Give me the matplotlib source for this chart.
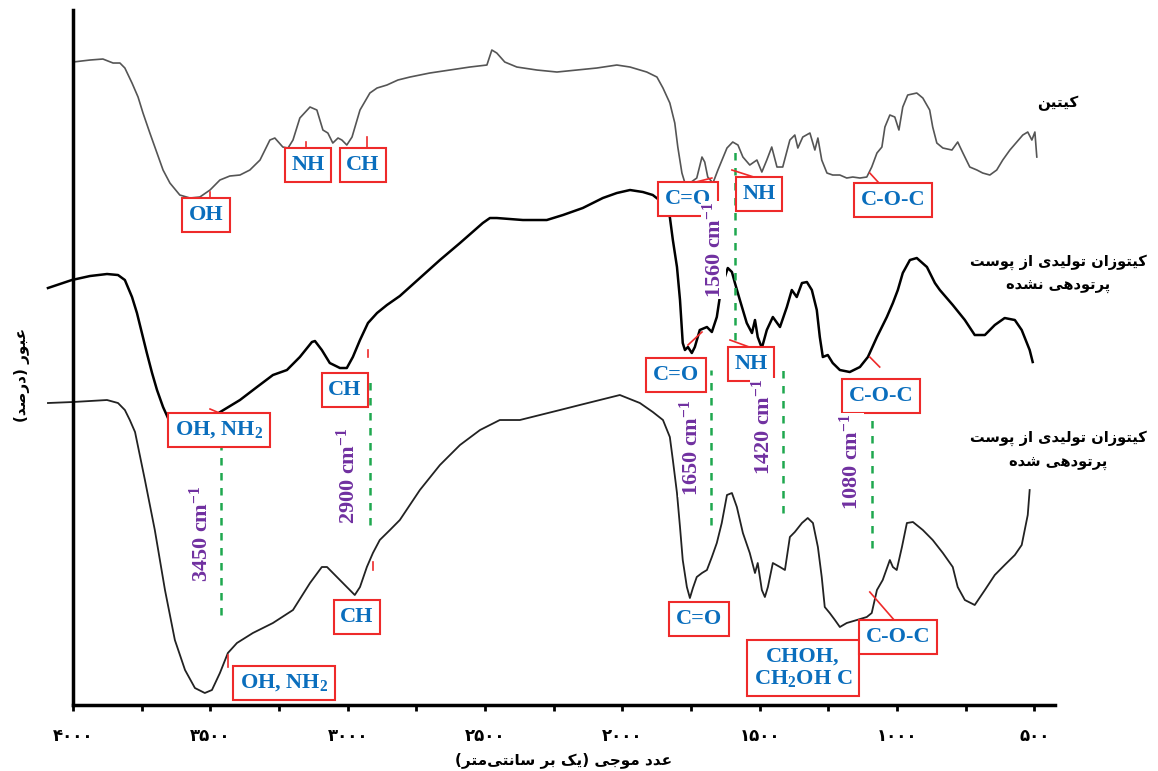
import matplotlib

matplotlib.use("Agg")
import matplotlib.pyplot as plt
from matplotlib.ticker import MultipleLocator

# %%
# spectra: wavenumber (cm-1) and transmittance (arbitrary units)
chitin_wn = [4000, 3938, 3891, 3854, 3829, 3811, 3785, 3763, 3745, 3720, 3694, 3672, 3647, 3611,
             3574, 3538, 3501, 3465, 3429, 3392, 3356, 3319, 3283, 3265, 3236, 3217, 3199, 3174,
             3137, 3112, 3090, 3072, 3054, 3035, 3021, 3003, 2984, 2955, 2919, 2893, 2857, 2817,
             2773, 2701, 2628, 2555, 2493, 2475, 2457, 2428, 2384, 2311, 2238, 2165, 2093, 2020,
             1972, 1911, 1874, 1852, 1827, 1809, 1798, 1783, 1772, 1754, 1729, 1710, 1700, 1689,
             1670, 1652, 1619, 1598, 1579, 1561, 1536, 1510, 1492, 1474, 1456, 1437, 1416, 1390,
             1372, 1361, 1343, 1317, 1299, 1288, 1274, 1255, 1234, 1208, 1183, 1161, 1135, 1110,
             1092, 1073, 1055, 1044, 1026, 1008, 993, 979, 961, 928, 906, 881, 870, 855, 833, 800,
             779, 760, 735, 709, 688, 662, 637, 615, 589, 564, 542, 524, 509, 498, 491]
chitin_t = [643, 645, 646, 642, 642, 637, 622, 608, 592, 572, 552, 535, 522, 510,
            507, 508, 515, 525, 529, 530, 535, 545, 565, 567, 558, 557, 565, 587,
            598, 595, 575, 572, 562, 567, 565, 560, 568, 595, 612, 617, 620, 625,
            628, 632, 635, 638, 640, 655, 652, 643, 638, 635, 633, 635, 637, 640,
            638, 633, 628, 617, 602, 582, 558, 532, 522, 522, 527, 548, 543, 528,
            522, 535, 557, 563, 560, 548, 540, 545, 533, 545, 558, 538, 538, 565,
            570, 557, 568, 572, 555, 567, 545, 532, 530, 530, 527, 528, 527, 528,
            538, 552, 558, 578, 590, 588, 575, 598, 610, 612, 607, 595, 578, 562, 557, 555,
            563, 552, 538, 535, 532, 530, 535, 545, 555, 563, 570, 573, 565, 573, 548]

raw_wn = [4091, 4004, 3938, 3876, 3836, 3811, 3785, 3767, 3749, 3731, 3712, 3694, 3672, 3654,
          3629, 3574, 3520, 3476, 3392, 3330, 3272, 3221, 3174, 3130, 3119, 3094, 3065, 3028,
          3003, 2981, 2955, 2926, 2893, 2857, 2810, 2737, 2664, 2591, 2537, 2508, 2482, 2457,
          2362, 2275, 2216, 2144, 2071, 2020, 1972, 1925, 1889, 1852, 1827, 1816, 1801, 1790,
          1780, 1772, 1761, 1747, 1736, 1718, 1692, 1674, 1656, 1645, 1634, 1616, 1601, 1590,
          1572, 1547, 1528, 1517, 1507, 1492, 1474, 1452, 1426, 1401, 1383, 1365, 1346, 1328,
          1310, 1292, 1281, 1270, 1252, 1234, 1208, 1172, 1135, 1106, 1073, 1037, 1015, 997,
          979, 953, 928, 891, 862, 844, 797, 753, 717, 680, 644, 608, 571, 546, 517, 506]
raw_t = [417, 425, 429, 431, 430, 425, 408, 392, 372, 352, 332, 315, 298, 287,
         275, 265, 275, 291, 305, 318, 330, 335, 348, 363, 364, 355, 342, 337,
         337, 348, 365, 382, 392, 400, 409, 427, 445, 462, 475, 482, 487, 487,
         485, 485, 490, 497, 507, 512, 515, 513, 510, 502, 488, 465, 438, 405,
         362, 355, 358, 352, 358, 375, 378, 373, 388, 408, 422, 437, 433, 422,
         405, 382, 372, 385, 368, 357, 375, 388, 378, 398, 415, 408, 422, 423,
         415, 395, 368, 348, 350, 342, 335, 333, 338, 348, 368, 388, 402, 415,
         432, 445, 447, 438, 422, 415, 400, 385, 370, 370, 380, 387, 385, 375, 355, 343]

irr_wn = [4091, 4000, 3938, 3876, 3836, 3811, 3793, 3774, 3738, 3702, 3665, 3629, 3592, 3556,
          3520, 3494, 3465, 3436, 3403, 3345, 3272, 3199, 3137, 3094, 3075, 3039, 3003, 2974,
          2955, 2930, 2908, 2883, 2846, 2810, 2737, 2664, 2591, 2518, 2446, 2373, 2300, 2227,
          2155, 2082, 2009, 1936, 1889, 1852, 1827, 1816, 1801, 1790, 1780, 1765, 1754, 1743,
          1729, 1710, 1692, 1674, 1656, 1638, 1619, 1601, 1583, 1561, 1536, 1517, 1507, 1492,
          1481, 1470, 1452, 1426, 1408, 1390, 1372, 1346, 1325, 1306, 1288, 1274, 1263, 1245,
          1226, 1208, 1183, 1146, 1110, 1092, 1073, 1052, 1026, 1015, 1001, 982, 964, 942,
          906, 870, 833, 797, 779, 753, 717, 680, 644, 608, 571, 546, 524, 517]
irr_t = [302, 303, 304, 305, 302, 295, 285, 273, 225, 175, 115, 65, 35, 17,
         12, 15, 32, 52, 62, 72, 82, 95, 122, 138, 138, 128, 118, 110,
         118, 138, 152, 165, 175, 185, 215, 240, 260, 275, 285, 285, 290, 295,
         300, 305, 310, 302, 293, 285, 268, 245, 212, 178, 145, 118, 107, 117,
         128, 132, 135, 148, 162, 182, 210, 212, 198, 172, 152, 132, 142, 115,
         108, 118, 142, 138, 135, 168, 173, 182, 187, 182, 158, 128, 98, 92,
         85, 78, 82, 85, 88, 92, 115, 125, 145, 138, 135, 158, 182, 183,
         175, 165, 152, 138, 118, 105, 100, 115, 130, 140, 150, 160, 190, 215]

tick_values = [4000, 3500, 3000, 2500, 2000, 1500, 1000, 500]

# peak labels in red boxes
box_labels = ["OH", "NH", "CH", "C=O", "NH", "C-O-C",
              "OH, NH$_2$", "CH", "C=O", "NH", "C-O-C",
              "CH", "OH, NH$_2$", "C=O", "CHOH,\nCH$_2$OH C", "C-O-C"]
box_wn = [3516, 3145, 2944, 1761, 1503, 1015, 3469, 3010, 1805, 1532, 1059, 2966, 3232, 1721, 1343, 997]
box_t = [490, 540, 540, 506, 511, 505, 275, 315, 330, 341, 309, 88, 22, 86, 37, 68]

leader_wn = [(3501, 3501), (3152, 3152), (2930, 2930), (1761, 1674), (1601, 1510), (1099, 1059),
             (3501, 3458), (2926, 2926), (1761, 1710), (1608, 1528), (1099, 1063),
             (2908, 2908), (3436, 3436), (1099, 1001)]
leader_t = [(508, 513), (555, 563), (556, 568), (521, 527), (535, 527), (532, 520),
            (296, 291), (348, 355), (360, 373), (365, 357), (348, 338),
            (135, 143), (38, 50), (113, 82)]

band_names = ["3450", "2900", "1560", "1650", "1420", "1080"]
band_wn = [3534, 2999, 1667, 1750, 1488, 1168]
band_t = [171, 229, 455, 257, 278, 243]
dash_wn = [3461, 2919, 1590, 1678, 1416, 1092]
dash_lo = [90, 180, 365, 180, 192, 157]
dash_hi = [260, 327, 555, 335, 338, 303]

# %%
# matplotlib has no arabic shaping, so map letters to presentation forms by hand
BASE = {"ا": 0xFE8D, "ب": 0xFE8F, "ت": 0xFE95, "ج": 0xFE9D, "د": 0xFEA9, "ر": 0xFEAD,
        "ز": 0xFEAF, "س": 0xFEB1, "ش": 0xFEB5, "ص": 0xFEB9, "ع": 0xFEC9, "ل": 0xFEDD,
        "م": 0xFEE1, "ن": 0xFEE5, "ه": 0xFEE9, "و": 0xFEED, "پ": 0xFB56, "ک": 0xFB8E,
        "ی": 0xFBFC}
RIGHT_ONLY = "ادرزو"
MIRROR = {"(": ")", ")": "("}


def shape(text):
    out = []
    for i, c in enumerate(text):
        if c not in BASE:
            if c != "\u200c":
                out.append(MIRROR.get(c, c))
            continue
        prev = text[i - 1] if i > 0 else ""
        nxt = text[i + 1] if i + 1 < len(text) else ""
        join_prev = prev in BASE and prev not in RIGHT_ONLY
        join_next = c not in RIGHT_ONLY and nxt in BASE
        k = {(False, False): 0, (True, False): 1, (False, True): 2, (True, True): 3}[(join_prev, join_next)]
        out.append(chr(BASE[c] + k))
    return "".join(reversed(out))


def fa_digits(v):
    return str(v).translate(str.maketrans("0123456789", "۰۱۲۳۴۵۶۷۸۹"))


# %%
plt.rcParams["mathtext.fontset"] = "custom"
plt.rcParams["mathtext.rm"] = "Liberation Serif:bold"
plt.rcParams["mathtext.default"] = "rm"

fa = dict(family="DejaVu Sans", fontweight="bold")
blue = "#0a6ebd"
red = "#ee2a2a"
purple = "#7030a0"
green = "#1fa84f"

fig = plt.figure(figsize=(11.58, 7.71), dpi=100)
ax = fig.add_axes([0.063, 0.0856, 0.848, 0.9014])

ax.plot(chitin_wn, chitin_t, color="#555555", lw=1.2, clip_on=False, zorder=2)
ax.plot(raw_wn, raw_t, color="black", lw=1.8, clip_on=False, zorder=2)
ax.plot(irr_wn, irr_t, color="#222222", lw=1.3, clip_on=False, zorder=2)

for w, lo, hi in zip(dash_wn, dash_lo, dash_hi):
    ax.plot([w, w], [lo, hi], color=green, lw=1.8, ls=(0, (3, 3)), zorder=3)

for (w0, w1), (t0, t1) in zip(leader_wn, leader_t):
    ax.plot([w0, w1], [t0, t1], color=red, lw=1.2, zorder=3)

for lab, w, t in zip(box_labels, box_wn, box_t):
    ax.text(w, t, lab, ha="center", va="center", color=blue, fontsize=16,
            family="Liberation Serif", fontweight="bold", linespacing=1.1, zorder=4,
            bbox=dict(boxstyle="square,pad=0.3", fc="white", ec=red, lw=1.5))

for name, w, t in zip(band_names, band_wn, band_t):
    ax.text(w, t, name + " cm$^{-1}$", rotation=90, ha="center", va="center", color=purple,
            fontsize=16, family="Liberation Serif", fontweight="bold", zorder=5,
            bbox=dict(boxstyle="square,pad=0.05", fc="white", ec="none"))

ax.set_xlim(4000, 425)
ax.set_ylim(0, 695)
ax.set_yticks([])
ax.set_xticks(tick_values)
ax.set_xticklabels([fa_digits(v) for v in tick_values], fontsize=12, **fa)
ax.xaxis.set_minor_locator(MultipleLocator(250))
ax.tick_params(axis="x", which="both", direction="out", length=4, width=2, pad=12)
for side in ["top", "right"]:
    ax.spines[side].set_visible(False)
for side in ["left", "bottom"]:
    ax.spines[side].set_linewidth(2.5)

ax.set_xlabel(shape("عدد موجی (یک بر سانتی‌متر)"), fontsize=11, labelpad=5, **fa)
fig.text(22 / 1158, 1 - 375 / 771, shape("عبور (درصد)"), rotation=90, ha="center", va="center",
         fontsize=11, **fa)

fig.text(0.9136, 0.866, shape("کیتین"), ha="center", va="center", fontsize=11, **fa)
fig.text(0.9136, 0.660, shape("کیتوزان تولیدی از پوست"), ha="center", va="center", fontsize=10.5, **fa)
fig.text(0.9136, 0.628, shape("پرتودهی نشده"), ha="center", va="center", fontsize=10.5, **fa)
fig.text(0.9136, 0.432, shape("کیتوزان تولیدی از پوست"), ha="center", va="center", fontsize=10.5, **fa)
fig.text(0.9136, 0.399, shape("پرتودهی شده"), ha="center", va="center", fontsize=10.5, **fa)

fig.savefig("out.png", dpi=100)
